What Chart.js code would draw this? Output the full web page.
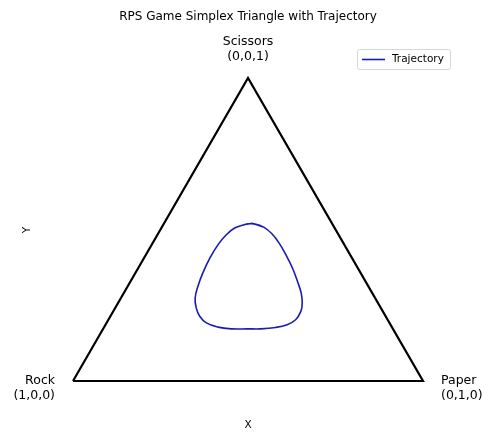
<!DOCTYPE html>
<html>
<head>
<meta charset="utf-8">
<script src="https://cdn.jsdelivr.net/npm/chart.js@4"></script>
<style>
  body { margin: 0; background: #fff; }
  canvas { display: block; }
</style>
</head>
<body>
<canvas id="chartCanvas" width="484" height="432"></canvas>
<script>
// Vertices of the simplex (Rock, Paper, Scissors, back to Rock)
const triangleX = [0, 1, 0.5, 0];
const triangleY = [0, 0, 0.866, 0];
const vertexNames = ['Rock', 'Paper', 'Scissors'];
const vertexCoords = ['(1,0,0)', '(0,1,0)', '(0,0,1)'];

// Trajectory (closed loop, last points repeat the first)
const trajX = [0.500, 0.517, 0.546, 0.569, 0.589, 0.608, 0.627, 0.643, 0.652, 0.655, 0.651, 0.636,
  0.612, 0.579, 0.536, 0.500, 0.452, 0.414, 0.381, 0.362, 0.352, 0.349, 0.357, 0.371, 0.391,
  0.414, 0.438, 0.462, 0.491, 0.500, 0.517, 0.546];
const trajY = [0.449, 0.449, 0.439, 0.420, 0.394, 0.361, 0.323, 0.280, 0.251, 0.223, 0.199, 0.175,
  0.161, 0.153, 0.149, 0.149, 0.149, 0.154, 0.166, 0.185, 0.209, 0.237, 0.271, 0.309, 0.351,
  0.389, 0.418, 0.437, 0.447, 0.449, 0.449, 0.439];

const FONT = "'DejaVu Sans', sans-serif";

const toPoints = (xs, ys) => xs.map((x, i) => ({ x: x, y: ys[i] }));

// Dibuja títulos, etiquetas de vértices y leyenda estilo matplotlib
const labelsPlugin = {
  id: 'simplexLabels',
  afterDraw(chart) {
    const ctx = chart.ctx;
    const xs = chart.scales.x;
    const ys = chart.scales.y;
    ctx.save();
    ctx.fillStyle = '#000';

    ctx.font = '12px ' + FONT;
    ctx.textAlign = 'center';
    ctx.textBaseline = 'middle';
    ctx.fillText('RPS Game Simplex Triangle with Trajectory', 248, 17);

    // etiquetas de los vértices
    ctx.font = '12.5px ' + FONT;
    const rx = xs.getPixelForValue(triangleX[0]);
    const ry = ys.getPixelForValue(triangleY[0]);
    ctx.textAlign = 'right';
    ctx.fillText(vertexNames[0], rx - 18, ry);
    ctx.fillText(vertexCoords[0], rx - 18, ry + 15);

    const px = xs.getPixelForValue(triangleX[1]);
    const py = ys.getPixelForValue(triangleY[1]);
    ctx.textAlign = 'left';
    ctx.fillText(vertexNames[1], px + 18, py);
    ctx.fillText(vertexCoords[1], px + 18, py + 15);

    const sx = xs.getPixelForValue(triangleX[2]);
    const sy = ys.getPixelForValue(triangleY[2]);
    ctx.textAlign = 'center';
    ctx.fillText(vertexNames[2], sx, sy - 36);
    ctx.fillText(vertexCoords[2], sx, sy - 21);

    // ejes
    ctx.font = '10.5px ' + FONT;
    ctx.fillText('X', 248, 425);
    ctx.save();
    ctx.translate(27, 230);
    ctx.rotate(-Math.PI / 2);
    ctx.fillText('Y', 0, 0);
    ctx.restore();

    // leyenda
    ctx.strokeStyle = '#d6d6d6';
    ctx.lineWidth = 1;
    ctx.beginPath();
    ctx.roundRect(357.5, 49.5, 93, 20, 2);
    ctx.fillStyle = 'rgba(255,255,255,0.8)';
    ctx.fill();
    ctx.stroke();
    ctx.strokeStyle = '#1a1ab4';
    ctx.lineWidth = 1.6;
    ctx.beginPath();
    ctx.moveTo(362, 59.5);
    ctx.lineTo(385, 59.5);
    ctx.stroke();
    ctx.fillStyle = '#000';
    ctx.font = '10.5px ' + FONT;
    ctx.textAlign = 'left';
    ctx.fillText('Trajectory', 392, 59.5);
    ctx.restore();
  },
};

const ctx = document.getElementById('chartCanvas').getContext('2d');
const chartInstance = new Chart(ctx, {
  type: 'scatter',
  data: {
    datasets: [
      {
        label: 'Simplex',
        data: toPoints(triangleX, triangleY),
        showLine: true,
        borderColor: '#000',
        borderWidth: 2.2,
        pointRadius: 0,
        tension: 0,
        borderJoinStyle: 'miter',
      },
      {
        label: 'Trajectory',
        data: toPoints(trajX, trajY),
        showLine: true,
        borderColor: '#1a1ab4',
        borderWidth: 1.6,
        pointRadius: 0,
        tension: 0.4,
      },
    ],
  },
  options: {
    responsive: false,
    animation: false,
    layout: { padding: { left: 40, right: 28, top: 40, bottom: 22 } },
    scales: {
      x: { type: 'linear', display: false, min: -0.094286, max: 1.094286 },
      y: { type: 'linear', display: false, min: -0.082857, max: 0.974286 },
    },
    plugins: {
      legend: { display: false },
      title: { display: false },
      tooltip: { enabled: false },
    },
  },
  plugins: [labelsPlugin],
});
</script>
</body>
</html>
